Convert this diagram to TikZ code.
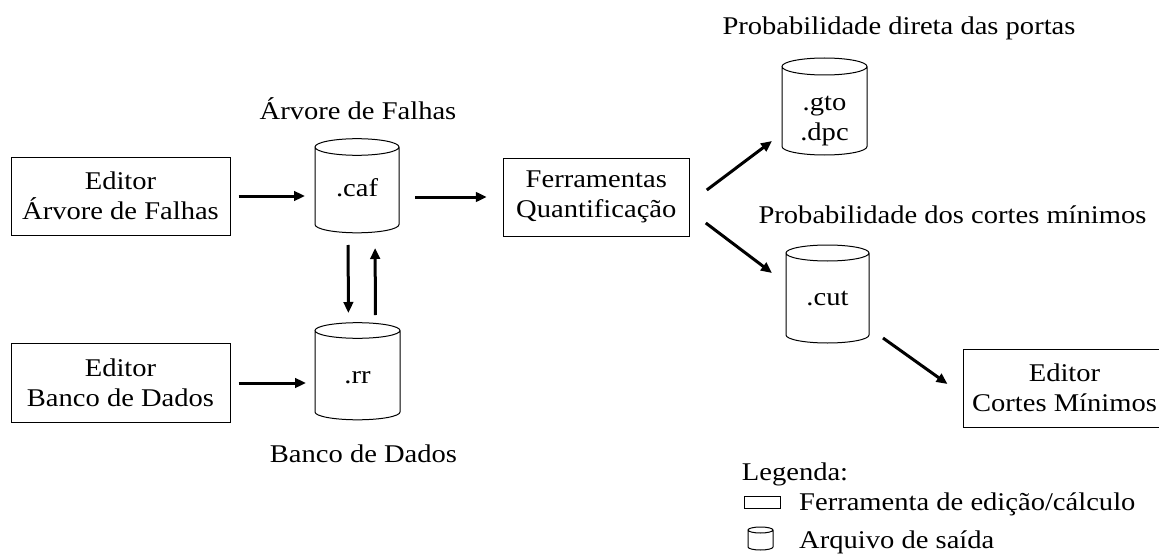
\documentclass[tikz,border=0pt]{standalone}
\usepackage{fontspec}
\setmainfont{Liberation Serif}[FakeStretch=1.12]
\usetikzlibrary{arrows.meta,calc}

% outline of a storage drum around a body node: side lines, lower arc and top ellipse
\newcommand\drumoutline[2]{%
  \draw[line width=1pt] let \p1=($(#1.east)-(#1.center)$) in
    (#1.north west) -- (#1.south west)
    arc[start angle=180,end angle=360,x radius=\x1,y radius=#2pt]
    -- (#1.north east)
    (#1.north) ellipse[x radius=\x1,y radius=#2pt];
}

\begin{document}
\begin{tikzpicture}[x=1pt,y=-1pt,
  font=\fontsize{25.5}{30}\selectfont,
  tool/.style={draw,line width=1pt,align=center,inner sep=0pt},
  drum/.style={inner sep=0pt,outer sep=0pt},
  tag/.style={inner sep=0pt,anchor=base},
  flow/.style={line width=3pt,-{Triangle[length=11pt,width=9.5pt]}}]
\useasboundingbox (0,0) rectangle (1159,559);

% tools
\node[tool,minimum width=219pt,minimum height=78pt] (ed1) at (120.5,196) {Editor\\Árvore de Falhas};
\node[tool,minimum width=219pt,minimum height=79pt] (ed2) at (120.5,383) {Editor\\Banco de Dados};
\node[tool,minimum width=186pt,minimum height=78pt] (fq) at (596.3,197) {Ferramentas\\Quantificação};
\node[tool,minimum width=203pt,minimum height=78pt] (ecm) at (1064.5,388) {Editor\\Cortes Mínimos};

% files
\node[drum,minimum width=84pt,minimum height=77.5pt] (caf) at (357,185.75) {};
\node[drum,minimum width=85pt,minimum height=81.5pt] (rr) at (357.5,371.25) {};
\node[drum,minimum width=85pt,minimum height=80pt] (gto) at (824.5,106.5) {};
\node[drum,minimum width=83pt,minimum height=82pt] (cut) at (827.5,294) {};
\drumoutline{caf}{8.3}
\drumoutline{rr}{7.8}
\drumoutline{gto}{8.5}
\drumoutline{cut}{8}

\node[tag] (caf-t) at (357,196.7) {.caf};
\node[tag] (rr-t) at (357.5,383.3) {.rr};
\node[tag,align=center] (gto-t) at (824.5,141) {.gto\\.dpc};
\node[tag] (cut-t) at (827.5,305) {.cut};

% captions
\node[tag] (cap-caf) at (358,120) {Árvore de Falhas};
\node[tag] (cap-rr) at (363.5,462) {Banco de Dados};
\node[tag] (cap-gto) at (899,35) {Probabilidade direta das portas};
\node[tag] (cap-cut) at (952.5,223.3) {Probabilidade dos cortes mínimos};

% flows
\draw[flow,shorten <=8pt,shorten >=10pt] (ed1.east) -- (ed1.east -| caf.west);
\draw[flow,shorten <=8pt,shorten >=9pt] (ed2.east) -- (ed2.east -| rr.west);
\draw[flow,shorten <=16pt,shorten >=16pt] (fq.west -| caf.east) -- (fq.west);
\draw[flow,shorten <=20.5pt,shorten >=17.5pt] ([xshift=-9pt]caf.south) -- ([xshift=-9pt]rr.north);
\draw[flow,shorten <=15.5pt,shorten >=23.5pt] ([xshift=18pt]rr.north) -- ([xshift=18pt]caf.south);
\draw[flow] ([shift={(17,-7)}]fq.east) -- ([shift={(-10,-5.5)}]gto.south west);
\draw[flow] ([shift={(16,26)}]fq.east) -- ([shift={(-14,-21)}]cut.west);
\draw[flow] ([shift={(14,3)}]cut.south east) -- ([shift={(-15,-4)}]ecm.west);

% legend
\node[tag,anchor=base west] (leg) at (741.7,480.7) {Legenda:};
\node[draw,line width=0.8pt,inner sep=0pt,minimum width=36pt,minimum height=12pt] (leg-tool) at (762,502) {};
\node[tag,anchor=base west] (leg-tool-t) at (799,510) {Ferramenta de edição/cálculo};
\node[drum,minimum width=25pt,minimum height=17pt] (leg-drum) at (760.5,538.5) {};
\drumoutline{leg-drum}{3}
\node[tag,anchor=base west] (leg-drum-t) at (799,548) {Arquivo de saída};
\end{tikzpicture}
\end{document}
